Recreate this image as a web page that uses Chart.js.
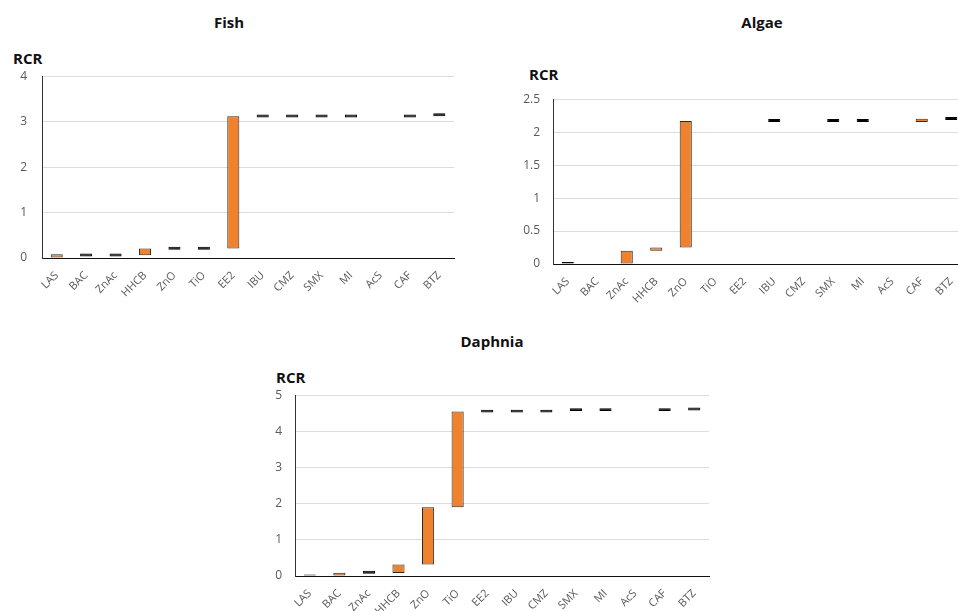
<!DOCTYPE html>
<html>
<head>
<meta charset="utf-8">
<script src="https://cdn.jsdelivr.net/npm/chart.js@4"></script>
<style>
	body { margin: 0; width: 958px; height: 611px; overflow: hidden; background: #fff; position: relative; font-family: 'Open Sans', sans-serif; }
	canvas { position: absolute; }
	.title, .unit { position: absolute; font-weight: 700; font-size: 15px; color: #111; white-space: nowrap; }
	.title { transform: translate(-50%, -50%); }
	.unit { transform: translate(0, -50%); }
</style>
</head>
<body>
<div class="title" style="left:229px; top:22px;">Fish</div>
<div class="unit" style="left:13px; top:58px;">RCR</div>
<canvas id="fishChart" width="460" height="249" style="left:0px; top:54px;"></canvas>

<div class="title" style="left:762px; top:22px;">Algae</div>
<div class="unit" style="left:529px; top:74px;">RCR</div>
<canvas id="algaeChart" width="465" height="230" style="left:507px; top:79px;"></canvas>

<div class="title" style="left:492px; top:341px;">Daphnia</div>
<div class="unit" style="left:276px; top:377px;">RCR</div>
<canvas id="daphniaChart" width="450" height="246" style="left:265px; top:375px;"></canvas>

<script>
const categories = ['LAS', 'BAC', 'ZnAc', 'HHCB', 'ZnO', 'TiO', 'EE2', 'IBU', 'CMZ', 'SMX', 'MI', 'AcS', 'CAF', 'BTZ'];

// bottom / top of each floating bar, null = nothing drawn
const fishLow  = [0,    0.035, 0.035, 0.06, 0.18,  0.18,  0.21, 3.09,  3.09,  3.09,  3.09,  null, 3.09,  3.12];
const fishHigh = [0.08, 0.10,  0.10,  0.21, 0.245, 0.245, 3.12, 3.155, 3.155, 3.155, 3.155, null, 3.155, 3.185];

const algaeLow  = [0,    null, 0,    0.20, 0.25, null, null, 2.155, null, 2.155, 2.155, null, 2.155, 2.185];
const algaeHigh = [0.03, null, 0.20, 0.25, 2.17, null, null, 2.20,  null, 2.20,  2.20,  null, 2.205, 2.23];

const daphniaLow  = [0,    0,    0.065, 0.08, 0.32, 1.90, 4.52, 4.52, 4.52, 4.56, 4.56, null, 4.56, 4.58];
const daphniaHigh = [0.04, 0.09, 0.145, 0.32, 1.90, 4.55, 4.60, 4.60, 4.60, 4.64, 4.64, null, 4.64, 4.66];

const yMax = { fish: 4, algae: 2.5, daphnia: 5 };
const yStep = { fish: 1, algae: 0.5, daphnia: 1 };

function pairs(low, high) {
	return low.map((l, i) => (l === null ? null : [l, high[i]]));
}

// very short bars show up as solid dashes
function isDash(c) {
	const v = c.raw;
	if (!v) return false;
	const y = c.chart.scales.y;
	return Math.abs(y.getPixelForValue(v[0]) - y.getPixelForValue(v[1])) < 3.2;
}

function drawPanel(id, low, high, max, step, axisWidth, tickPad) {
	const ctx = document.getElementById(id);
	return new Chart(ctx, {
		type: 'bar',
		data: {
			labels: categories,
			datasets: [
				{
					data: pairs(low, high),
					backgroundColor: (c) => (isDash(c) ? '#000' : '#F0822E'),
					borderColor: (c) => (isDash(c) ? '#000' : '#2a2a2a'),
					borderWidth: 1,
					borderSkipped: false,
					barPercentage: 0.41,
					categoryPercentage: 1,
				},
			],
		},
		options: {
			responsive: false,
			animation: false,
			layout: { padding: { top: 0, right: 6, left: 0, bottom: 0 } },
			plugins: { legend: { display: false }, tooltip: { enabled: false } },
			scales: {
				x: {
					grid: { display: false },
					border: { color: '#111', width: 1 },
					ticks: {
						color: '#595959',
						font: { family: 'Open Sans', size: 11 },
						minRotation: 45,
						maxRotation: 45,
						autoSkip: false,
						padding: 3,
					},
					afterFit: (s) => { s.height = 45; },
				},
				y: {
					min: 0,
					max: max,
					grid: { color: '#dcdcdc', drawTicks: false },
					border: { color: '#333', width: 1 },
					ticks: {
						stepSize: step,
						color: '#595959',
						font: { family: 'Open Sans', size: 12 },
						padding: tickPad,
						callback: (v) => String(Math.round(v * 10) / 10),
					},
					afterFit: (s) => { s.width = axisWidth; },
				},
			},
		},
	});
}

drawPanel('fishChart', fishLow, fishHigh, yMax.fish, yStep.fish, 42, 15);
drawPanel('algaeChart', algaeLow, algaeHigh, yMax.algae, yStep.algae, 46, 13);
drawPanel('daphniaChart', daphniaLow, daphniaHigh, yMax.daphnia, yStep.daphnia, 30, 13);
</script>
</body>
</html>
